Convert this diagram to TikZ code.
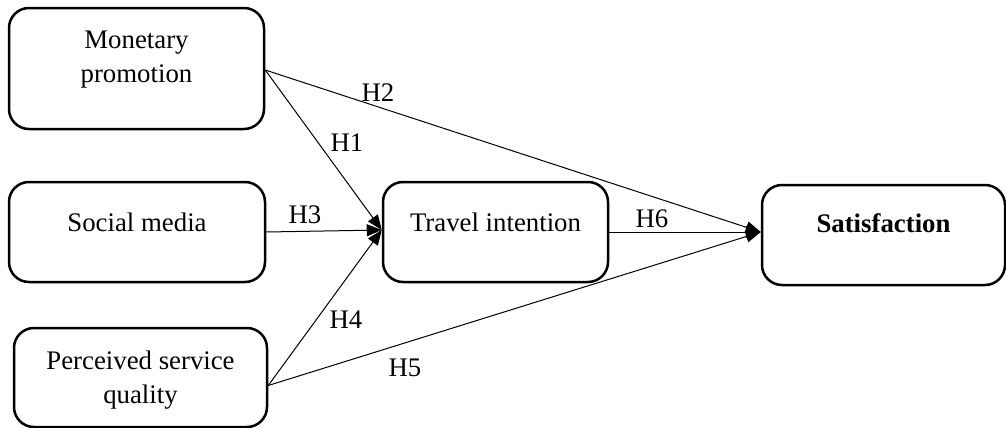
\documentclass[tikz,border=0pt]{standalone}
\usepackage{fontspec}
\setmainfont{Liberation Serif}
\usetikzlibrary{arrows.meta}
\begin{document}
\begin{tikzpicture}[x=0.5pt,y=-0.5pt,
  box/.style={draw, line width=1.25pt, rounded corners=10pt, inner sep=0pt},
  txt/.style={font=\fontsize{13.4}{17}\selectfont, align=center, inner sep=0pt},
  hyp/.style={font=\fontsize{13.4}{17}\selectfont, inner sep=0pt},
  conn/.style={line width=0.5pt, -{Triangle[length=7.5pt,width=6pt]}}]
\useasboundingbox (0,0) rectangle (1006,428);
\node[box, minimum width=127.5pt, minimum height=60.5pt] (mp) at (136.5,68.5) {};
\node[box, minimum width=128pt, minimum height=50pt] (sm) at (137,232) {};
\node[box, minimum width=126.5pt, minimum height=49.5pt] (pq) at (140.5,377.5) {};
\node[box, minimum width=112.5pt, minimum height=50pt] (ti) at (495.5,232) {};
\node[box, minimum width=121.5pt, minimum height=50pt] (sa) at (883.5,235) {};
\node[txt] (mpt) at (136.5,60) {Monetary\\promotion};
\node[txt] (smt) at (137,222) {Social media};
\node[txt] (pqt) at (140.5,380) {Perceived service\\quality};
\node[txt] (tit) at (495.5,222) {Travel intention};
\node[txt, font=\fontsize{13.4}{17}\selectfont\bfseries] (sat) at (883.5,223) {Satisfaction};
\coordinate (mpo) at ([yshift=-0.75pt]mp.east);
\coordinate (pqo) at ([yshift=-4pt]pq.east);
\coordinate (tin) at ([yshift=1pt]ti.west);
\coordinate (sin) at ([yshift=1.5pt]sa.west);
\draw[conn] (mpo) -- (tin);
\draw[conn] (sm.east) -- (tin);
\draw[conn] (pqo) -- (tin);
\draw[conn] (mpo) -- (sin);
\draw[conn] (ti.east) -- (sin);
\draw[conn] (pqo) -- (sin);
\node[hyp] (h1) at (347,143) {H1};
\node[hyp] (h2) at (378,93) {H2};
\node[hyp] (h3) at (305,215) {H3};
\node[hyp] (h4) at (346,320) {H4};
\node[hyp] (h5) at (405,368) {H5};
\node[hyp] (h6) at (652,219) {H6};
\end{tikzpicture}
\end{document}
